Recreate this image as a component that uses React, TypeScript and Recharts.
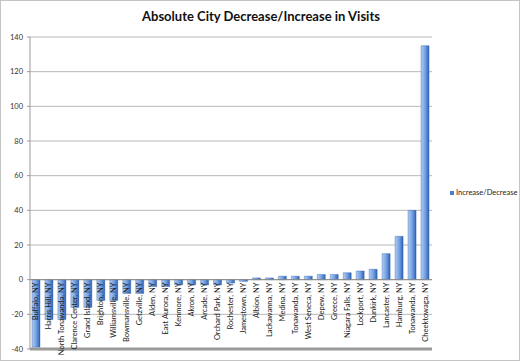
import React from "react";
import { BarChart, Bar, XAxis, YAxis, CartesianGrid, ReferenceLine, LabelList } from "recharts";

const categories = [
  "Buffalo, NY", "Harris Hill, NY", "North Tonawanda, NY", "Clarence Center, NY", "Grand Island, NY",
  "Brighton, NY", "Williamsville, NY", "Bowmansville, NY", "Getzville, NY", "Alden, NY",
  "East Aurora, NY", "Kenmore, NY", "Akron, NY", "Arcade, NY", "Orchard Park, NY",
  "Rochester, NY", "Jamestown, NY", "Albion, NY", "Lackawanna, NY", "Medina, NY",
  "Tonawanda, NY", "West Seneca, NY", "Depew, NY", "Greece, NY", "Niagara Falls, NY",
  "Lockport, NY", "Dunkirk, NY", "Lancaster, NY", "Hamburg, NY", "Tonawanda, NY", "Cheektowaga, NY",
];
const values = [
  -39, -23, -23, -16, -16,
  -12, -12, -8, -8, -4,
  -4, -3, -3, -3, -3,
  -2, -1, 1, 1, 2,
  2, 2, 3, 3, 4,
  5, 6, 15, 25, 40, 135,
];
const yTicks = [-40, -20, 0, 20, 40, 60, 80, 100, 120, 140];
const seriesName = "Increase/Decrease";
const title = "Absolute City Decrease/Increase in Visits";

const data = categories.map((c, i) => ({ key: `${i}`, name: c, value: values[i] }));

const CatLabel = (props: any) => {
  const { x, y, width, height, index, value } = props;
  const v = data[index].value;
  const top = Math.min(y, y + height);
  const bottom = Math.max(y, y + height);
  const zeroY = v >= 0 ? bottom : top;
  const cx = x + width / 2;
  const ty = zeroY + 3;
  return (
    <text
      x={cx}
      y={ty}
      transform={`rotate(-90 ${cx} ${ty})`}
      textAnchor="end"
      dominantBaseline="central"
      fontSize={7.5}
      fill="#1a1a1a"
      fontFamily="Lato, 'Open Sans', sans-serif"
    >
      {value}
    </text>
  );
};

export default function App() {
  return (
    <div
      style={{
        position: "absolute",
        left: 0,
        top: 0,
        width: 520,
        height: 361,
        boxSizing: "border-box",
        border: "1px solid #c4c4c4",
        background: "#fff",
        fontFamily: "Lato, 'Open Sans', sans-serif",
      }}
    >
      <div
        style={{
          position: "absolute",
          left: 0,
          top: 7,
          width: 520,
          textAlign: "center",
          fontWeight: 700,
          fontSize: 13,
          color: "#111",
        }}
      >
        {title}
      </div>
      <div
        style={{
          position: "absolute",
          left: 449,
          top: 187,
          fontSize: 7.5,
          color: "#222",
          display: "flex",
          alignItems: "center",
          whiteSpace: "nowrap",
        }}
      >
        <span style={{ display: "inline-block", width: 4, height: 4, background: "#4a7fd0", marginRight: 2 }} />
        {seriesName}
      </div>
      <div style={{ position: "absolute", left: -1, top: -1 }}>
        <BarChart
          width={520}
          height={361}
          data={data}
          margin={{ top: 37, right: 88, left: 0, bottom: 11 }}
          barSize={8}
        >
          <defs>
            <linearGradient id="barGrad" x1="0" y1="0" x2="1" y2="0">
              <stop offset="0" stopColor="#b3cef4" />
              <stop offset="0.55" stopColor="#6f9de0" />
              <stop offset="1" stopColor="#2e61b3" />
            </linearGradient>
          </defs>
          <CartesianGrid vertical={false} stroke="#b8b8b8" />
          <XAxis
            dataKey="key"
            tick={false}
            height={1}
            axisLine={{ stroke: "#9a9a9a", strokeWidth: 3 }}
            tickLine={false}
          />
          <YAxis
            domain={[-40, 140]}
            ticks={yTicks}
            width={30}
            tick={{ fontSize: 7.5, fill: "#333", fontFamily: "Lato, 'Open Sans', sans-serif" }}
            tickSize={3}
            tickMargin={4}
            axisLine={{ stroke: "#999" }}
            tickLine={{ stroke: "#999" }}
            interval={0}
          />
          <ReferenceLine y={0} stroke="#8a8a8a" />
          <Bar dataKey="value" fill="url(#barGrad)" stroke="#2d5fa8" strokeWidth={0.4} isAnimationActive={false}>
            <LabelList dataKey="name" content={CatLabel} />
          </Bar>
        </BarChart>
      </div>
    </div>
  );
}
